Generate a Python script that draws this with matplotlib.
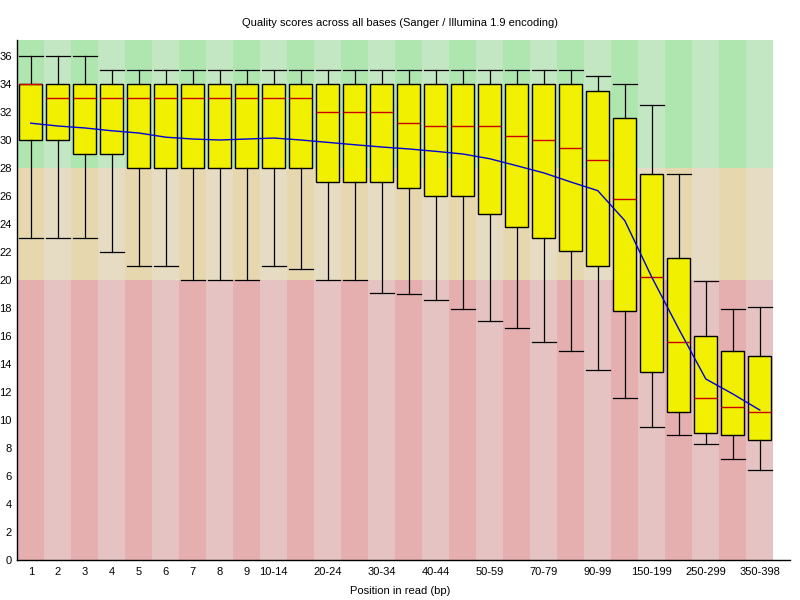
import matplotlib
matplotlib.use("Agg")
import matplotlib.pyplot as plt
from matplotlib.patches import Rectangle

# per-position quality stats
positions = ["1", "2", "3", "4", "5", "6", "7", "8", "9",
             "10-14", "15-19", "20-24", "25-29", "30-34", "35-39",
             "40-44", "45-49", "50-59", "60-69", "70-79", "80-89",
             "90-99", "100-149", "150-199", "200-249", "250-299",
             "300-349", "350-398"]
whisker_top = [36, 36, 36, 35, 35, 35, 35, 35, 35, 35, 35, 35, 35, 35, 35,
               35, 35, 35, 35, 35, 35, 34.6, 34.0, 32.5, 27.6, 19.9, 17.9, 18.1]
upper_q = [34, 34, 34, 34, 34, 34, 34, 34, 34, 34, 34, 34, 34, 34, 34,
           34, 34, 34, 34, 34, 34, 33.5, 31.6, 27.6, 21.6, 16.0, 14.9, 14.6]
median = [34, 33, 33, 33, 33, 33, 33, 33, 33, 33, 33, 32, 32, 32, 31.2,
          31, 31, 31, 30.3, 30, 29.4, 28.6, 25.8, 20.2, 15.6, 11.6, 10.9, 10.6]
lower_q = [30, 30, 29, 29, 28, 28, 28, 28, 28, 28, 28, 27, 27, 27, 26.6,
           26, 26, 24.7, 23.8, 23, 22.1, 21, 17.8, 13.4, 10.6, 9.1, 8.9, 8.6]
whisker_bot = [23, 23, 23, 22, 21, 21, 20, 20, 20, 21, 20.8, 20, 20, 19.1, 19,
               18.6, 17.9, 17.1, 16.6, 15.6, 14.9, 13.6, 11.6, 9.5, 8.9, 8.3, 7.2, 6.4]
mean = [31.2, 31.0, 30.86, 30.66, 30.5, 30.2, 30.07, 30.0, 30.07, 30.14, 30.0,
        29.83, 29.66, 29.5, 29.36, 29.19, 29.0, 28.66, 28.16, 27.65, 27.0,
        26.38, 24.24, 20.2, 16.5, 12.93, 11.86, 10.71]
shown_labels = ["1", "2", "3", "4", "5", "6", "7", "8", "9", "10-14", "20-24",
                "30-34", "40-44", "50-59", "70-79", "90-99", "150-199",
                "250-299", "350-398"]

GOOD, GOOD_DARK = (195/255, 230/255, 195/255), (175/255, 230/255, 175/255)
BAD, BAD_DARK = (230/255, 220/255, 195/255), (230/255, 215/255, 175/255)
UGLY, UGLY_DARK = (230/255, 195/255, 195/255), (230/255, 175/255, 175/255)

plt.rcParams['font.family'] = ['Liberation Sans', 'DejaVu Sans']

fig = plt.figure(figsize=(8, 6), dpi=100)
ax = fig.add_axes([17.3/800, 40/600, (790-17.3)/800, 520/600])

n = len(positions)
ymax = 520/14
for i in range(n):
    dark = i % 2 == 0
    for lo, hi, c, cd in [(0, 20, UGLY, UGLY_DARK), (20, 28, BAD, BAD_DARK),
                          (28, ymax, GOOD, GOOD_DARK)]:
        ax.add_patch(Rectangle((i - 0.5, lo), 1, hi - lo,
                               facecolor=cd if dark else c, edgecolor='none', zorder=0))

stats = []
for i in range(n):
    stats.append(dict(label=positions[i], whislo=whisker_bot[i], q1=lower_q[i],
                      med=median[i], q3=upper_q[i], whishi=whisker_top[i], fliers=[]))
ax.bxp(stats, positions=range(n), widths=0.86, patch_artist=True, showfliers=False,
       boxprops=dict(facecolor=(240/255, 240/255, 0), edgecolor='black', linewidth=1.0),
       medianprops=dict(color=(0.8, 0, 0), linewidth=1.0),
       whiskerprops=dict(color='black', linewidth=0.9),
       capprops=dict(color='black', linewidth=0.9), capwidths=0.9, zorder=2)

ax.plot(range(n), mean, color=(0, 0, 0.85), linewidth=1.0, zorder=3)

ax.set_xlim(-0.5, (790 - 17.3)/27 - 0.5)
ax.set_ylim(0, ymax)
ax.set_yticks(range(0, 37, 2))
ticks = [positions.index(l) for l in shown_labels]
ax.set_xticks(ticks)
ax.set_xticklabels(shown_labels)
ax.tick_params(length=0, labelsize=8, pad=5)
ax.tick_params(axis='y', pad=4)
for s in ['top', 'right']:
    ax.spines[s].set_visible(False)
ax.spines['left'].set_linewidth(1.0)
ax.spines['bottom'].set_linewidth(1.0)

fig.text(0.5, 1 - 23/600, "Quality scores across all bases (Sanger / Illumina 1.9 encoding)",
         ha='center', va='center', fontsize=8)
fig.text(0.5, 1 - 591/600, "Position in read (bp)", ha='center', va='center', fontsize=8)

fig.savefig("out.png", dpi=100)
